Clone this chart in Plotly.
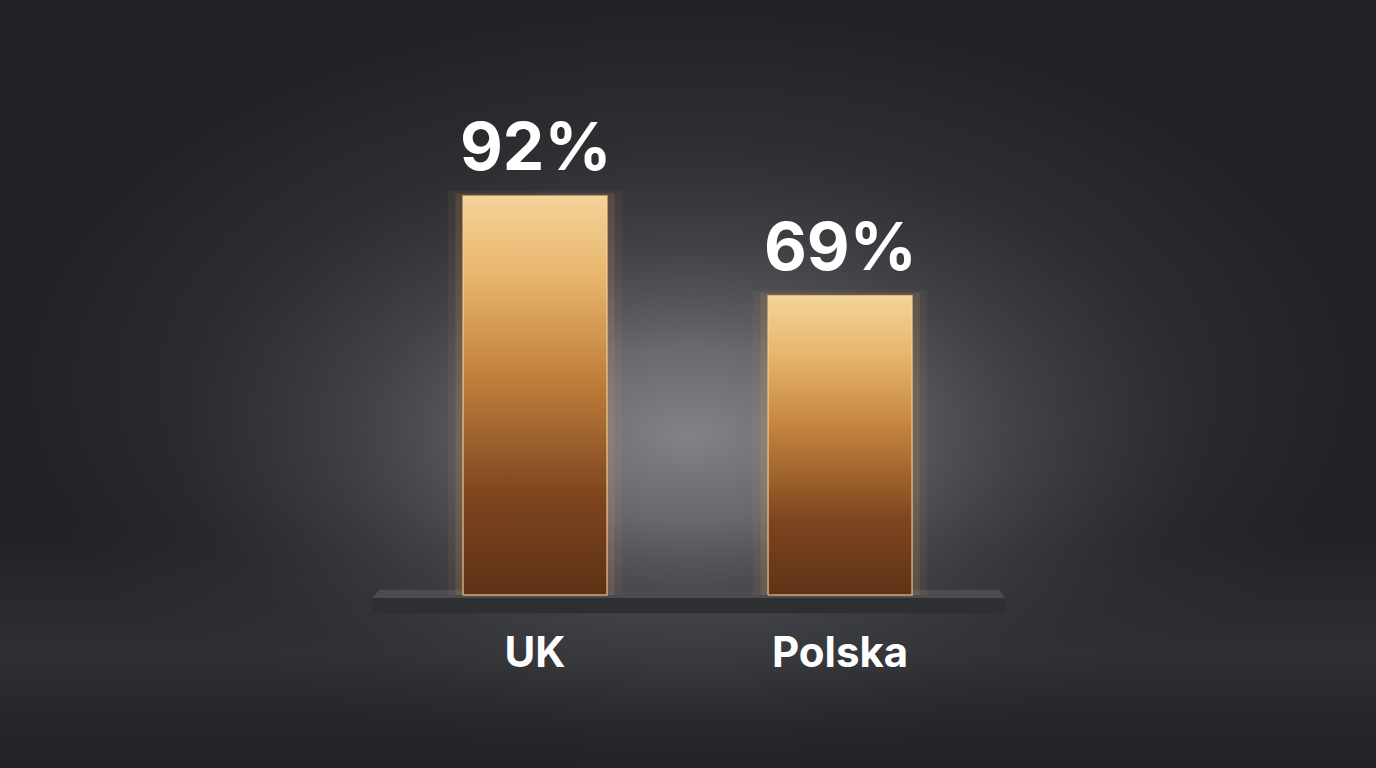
import plotly.graph_objects as go

# data
countries = ["UK", "Polska"]
shares = [92, 69]
share_labels = ["92%", "69%"]

W, H = 1376, 768
half = 0.236  # half bar width in category units


def box(x0, x1, y0, y1):
    return [x0, x1, x1, x0, x0], [y0, y0, y1, y1, y0]


fig = go.Figure()

# wide vignette, lighter in the middle than in the corners
bx, by = box(-1.76, 2.76, -40, 138)
fig.add_trace(go.Scatter(
    x=bx, y=by, mode="lines", line=dict(width=0), fill="toself",
    fillgradient=dict(type="radial", colorscale=[
        [0, "rgba(66,67,71,1)"], [0.5, "rgba(52,53,57,0.8)"],
        [1, "rgba(31,32,35,0.9)"]]),
    hoverinfo="skip", showlegend=False))

# floor band, a touch lighter than the wall
bx, by = box(-1.76, 2.76, -40, 18)
fig.add_trace(go.Scatter(
    x=bx, y=by, mode="lines", line=dict(width=0), fill="toself",
    fillgradient=dict(type="vertical", colorscale=[
        [0, "rgba(40,41,44,0.2)"], [0.45, "rgba(56,57,61,0.6)"],
        [0.75, "rgba(52,53,57,0.35)"], [1, "rgba(39,40,43,0)"]]),
    hoverinfo="skip", showlegend=False))

# soft spotlight behind the bars
bx, by = box(-1.2, 2.22, -30, 104)
fig.add_trace(go.Scatter(
    x=bx, y=by, mode="lines", line=dict(width=0), fill="toself",
    fillgradient=dict(type="radial", colorscale=[
        [0, "rgba(130,131,136,1)"], [0.3, "rgba(112,113,118,0.85)"],
        [0.65, "rgba(80,81,86,0.45)"], [1, "rgba(60,61,65,0)"]]),
    hoverinfo="skip", showlegend=False))

# platform: top face and front face
fig.add_trace(go.Scatter(
    x=[-0.534, 1.541, 1.520, -0.510, -0.534], y=[-0.7, -0.7, 1.2, 1.2, -0.7],
    mode="lines", line=dict(width=0), fill="toself", fillcolor="#4b4c51",
    hoverinfo="skip", showlegend=False))
bx, by = box(-0.534, 1.541, -4.2, -0.7)
fig.add_trace(go.Scatter(
    x=bx, y=by, mode="lines", line=dict(width=0), fill="toself", fillcolor="#2e2f32",
    hoverinfo="skip", showlegend=False))

bar_scale = [[0, "#5e3216"], [0.25, "#7e451f"], [0.55, "#c1813c"],
             [0.8, "#e8b56c"], [1, "#f3d499"]]

for i, v in enumerate(shares):
    # glow halo
    for pad, op in [(0.05, 0.06), (0.025, 0.12)]:
        bx, by = box(i - half - pad, i + half + pad, 0, v + pad * 25)
        fig.add_trace(go.Scatter(
            x=bx, y=by, mode="lines", line=dict(width=0), fill="toself",
            fillcolor="rgba(255,175,95,%s)" % op,
            hoverinfo="skip", showlegend=False))
    bx, by = box(i - half, i + half, 0, v)
    fig.add_trace(go.Scatter(
        x=bx, y=by, mode="lines",
        line=dict(width=1.5, color="rgba(255,214,150,0.7)"),
        fill="toself", fillgradient=dict(type="vertical", colorscale=bar_scale),
        hoverinfo="skip", showlegend=False, name=countries[i]))
    fig.add_annotation(x=i, y=v, text=share_labels[i], showarrow=False,
                       yanchor="bottom", yshift=8,
                       font=dict(family="Inter", size=66, color="#ffffff", weight=700))

fig.update_layout(
    width=W, height=H,
    margin=dict(l=0, r=0, t=0, b=0),
    paper_bgcolor="#27282b", plot_bgcolor="rgba(0,0,0,0)",
    showlegend=False,
    xaxis=dict(range=[-1.754, 2.757], tickvals=[0, 1], ticktext=countries,
               anchor="free", position=0.2018, showgrid=False, zeroline=False,
               showline=False, ticks="", ticklabelstandoff=11,
               tickfont=dict(family="Inter", size=42, color="#ffffff", weight=700),
               fixedrange=True),
    yaxis=dict(range=[-39.9, 137.2], visible=False, fixedrange=True),
)

# drop the default page margin so the figure fills the window
fig.write_html("out.html", config={"displayModeBar": False},
               post_script="document.body.style.margin='0';"
               "document.body.style.background='#27282b';")
